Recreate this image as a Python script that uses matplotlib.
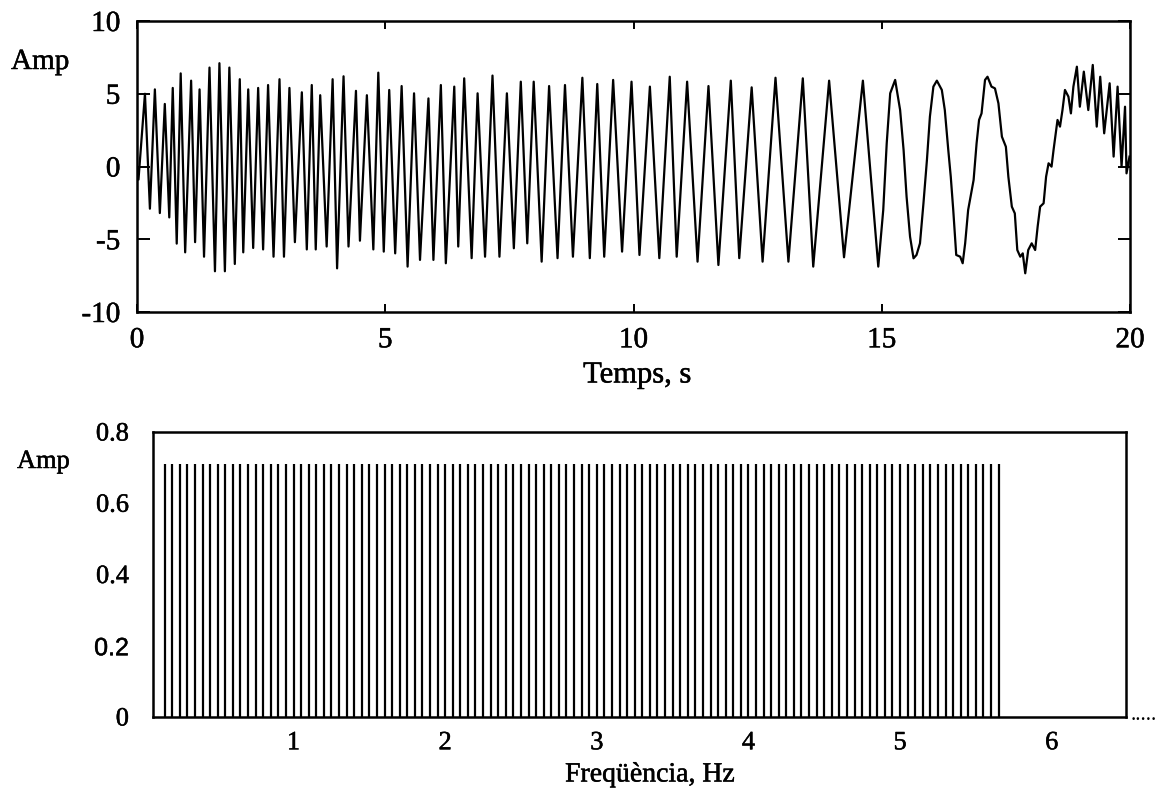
import matplotlib
matplotlib.use("Agg")
import matplotlib.pyplot as plt
import matplotlib.patheffects as pe

# ---------------- data ----------------
# top panel: extrema / shape points of the recorded signal (time in s, amplitude)
time_s = [
    0.00, 0.03, 0.16, 0.26, 0.36, 0.46, 0.56, 0.65, 0.72, 0.80,
    0.88, 0.97, 1.09, 1.17, 1.26, 1.35, 1.46, 1.57, 1.66, 1.77,
    1.86, 1.97, 2.07, 2.14, 2.24, 2.34, 2.44, 2.54, 2.64, 2.75,
    2.87, 2.96, 3.07, 3.18, 3.32, 3.42, 3.52, 3.60, 3.69, 3.82,
    3.94, 4.03, 4.16, 4.26, 4.41, 4.49, 4.63, 4.76, 4.86, 4.97,
    5.08, 5.20, 5.33, 5.45, 5.58, 5.70, 5.87, 5.97, 6.12, 6.22,
    6.39, 6.47, 6.59, 6.74, 6.86, 7.01, 7.16, 7.30, 7.45, 7.59,
    7.73, 7.86, 7.99, 8.15, 8.30, 8.47, 8.62, 8.78, 8.97, 9.12,
    9.27, 9.41, 9.59, 9.77, 9.96, 10.12, 10.33, 10.52, 10.73, 10.87,
    11.08, 11.29, 11.51, 11.71, 11.96, 12.13, 12.38, 12.60, 12.86, 13.12,
    13.41, 13.62, 13.94, 14.24, 14.62, 14.93,
    15.03, 15.10, 15.17, 15.27, 15.37, 15.44, 15.50, 15.57, 15.64, 15.70,
    15.77, 15.84, 15.91, 15.97, 16.04, 16.11, 16.21, 16.27, 16.34, 16.39,
    16.44, 16.50, 16.58, 16.63, 16.68, 16.74, 16.85, 16.91, 16.96, 17.01,
    17.08, 17.13, 17.21, 17.28, 17.35, 17.42, 17.50, 17.55, 17.62, 17.68,
    17.73, 17.79, 17.84, 17.89, 17.95, 18.02, 18.09, 18.14, 18.19, 18.26,
    18.31, 18.36, 18.42, 18.46, 18.54, 18.59, 18.64, 18.69, 18.76, 18.81,
    18.86, 18.93, 18.99, 19.07, 19.16, 19.25, 19.33, 19.40, 19.48, 19.59,
    19.67, 19.75, 19.83, 19.90, 19.93, 19.99,
]
signal_amp = [
    0.0, -0.9, 5.0, -2.9, 5.3, -3.2, 4.3, -3.5, 5.4, -5.3,
    6.4, -5.9, 5.9, -5.2, 5.3, -6.2, 6.8, -7.2, 7.1, -7.2,
    6.8, -6.7, 6.0, -5.9, 5.3, -5.6, 5.4, -5.7, 5.6, -6.2,
    6.0, -6.2, 5.4, -5.2, 5.1, -5.7, 5.6, -5.7, 4.9, -5.5,
    6.0, -7.0, 6.2, -5.5, 5.2, -5.1, 4.9, -5.7, 6.45, -5.85,
    5.26, -5.97, 5.53, -6.88, 5.03, -6.42, 4.68, -6.42, 5.6, -6.65,
    5.49, -5.5, 6.06, -6.3, 5.03, -6.2, 6.25, -6.2, 5.03, -5.62,
    5.83, -5.28, 5.83, -6.54, 5.53, -6.3, 5.6, -6.2, 6.1, -6.3,
    5.67, -6.2, 5.95, -5.85, 5.83, -6.08, 5.49, -6.3, 6.17, -6.2,
    5.83, -6.54, 5.53, -6.77, 5.90, -6.3, 5.44, -6.54, 6.1, -6.54,
    6.06, -6.88, 5.90, -6.24, 5.90, -6.88,
    -2.99, 1.59, 5.03, 5.95, 3.88, 1.13, -2.07, -4.82, -6.31, -6.08,
    -5.28, -2.53, 0.45, 3.43, 5.49, 5.90, 5.26, 3.88, 1.13, -0.70,
    -2.99, -6.08, -6.20, -6.65, -5.28, -2.99, -0.93, 1.59, 3.20, 3.65,
    5.95, 6.17, 5.49, 5.37, 4.34, 2.05, 1.36, -0.70, -2.76, -3.22,
    -5.74, -6.20, -5.97, -7.34, -5.74, -5.28, -5.74, -4.13, -2.76, -2.53,
    -0.70, 0.22, -0.01, 1.13, 3.20, 2.74, 3.88, 5.26, 4.80, 3.65,
    5.49, 6.86, 4.11, 6.52, 3.88, 6.98, 2.74, 6.17, 2.28, 5.72,
    0.68, 5.49, -0.01, 4.11, -0.47, 0.68,
]
time_ticks = [0, 5, 10, 15, 20]
signal_ticks = [-10, -5, 0, 5, 10]

# bottom panel: spectral lines (frequency in Hz, amplitude)
freq_hz = [
    0.15, 0.20, 0.25, 0.30, 0.35, 0.40, 0.45, 0.50, 0.55, 0.60,
    0.65, 0.70, 0.75, 0.80, 0.85, 0.90, 0.95, 1.00, 1.05, 1.10,
    1.15, 1.20, 1.25, 1.30, 1.35, 1.40, 1.45, 1.50, 1.55, 1.60,
    1.65, 1.70, 1.75, 1.80, 1.85, 1.90, 1.95, 2.00, 2.05, 2.10,
    2.15, 2.20, 2.25, 2.30, 2.35, 2.40, 2.45, 2.50, 2.55, 2.60,
    2.65, 2.70, 2.75, 2.80, 2.85, 2.90, 2.95, 3.00, 3.05, 3.10,
    3.15, 3.20, 3.25, 3.30, 3.35, 3.40, 3.45, 3.50, 3.55, 3.60,
    3.65, 3.70, 3.75, 3.80, 3.85, 3.90, 3.95, 4.00, 4.05, 4.10,
    4.15, 4.20, 4.25, 4.30, 4.35, 4.40, 4.45, 4.50, 4.55, 4.60,
    4.65, 4.70, 4.75, 4.80, 4.85, 4.90, 4.95, 5.00, 5.05, 5.10,
    5.15, 5.20, 5.25, 5.30, 5.35, 5.40, 5.45, 5.50, 5.55, 5.60,
    5.65,
]
line_amp = 0.71
spec_amp = [line_amp] * len(freq_hz)
freq_ticks = [1, 2, 3, 4, 5, 6]
spec_ticks = [0, 0.2, 0.4, 0.6, 0.8]
spec_tick_labels = ["0", "0.2", "0.4", "0.6", "0.8"]

# ---------------- figure ----------------
plt.rcParams["font.family"] = ["Liberation Serif", "DejaVu Serif"]
plt.rcParams["axes.unicode_minus"] = False
fig = plt.figure(figsize=(11.69, 7.95), dpi=100)
W, H = 1169.0, 795.0
heavy = [pe.withStroke(linewidth=0.35, foreground="black")]

# top panel
ax1 = fig.add_axes([137 / W, 1 - 312 / H, 993 / W, 291 / H])
ax1.plot(time_s, signal_amp, color="black", lw=1.6)
ax1.set_xlim(0, 20)
ax1.set_ylim(-10, 10)
ax1.set_xticks(time_ticks)
ax1.set_yticks(signal_ticks)
ax1.tick_params(axis="x", direction="in", length=6, width=1.4, top=True,
                labelsize=21, pad=11)
ax1.tick_params(axis="y", direction="in", length=9, width=1.4, right=True,
                labelsize=21, pad=12)
for s in ax1.spines.values():
    s.set_linewidth(1.8)
for t in ax1.get_xticklabels() + ax1.get_yticklabels():
    t.set_path_effects(heavy)
fig.text(11 / W, 1 - 62 / H, "Amp", fontsize=21, ha="left", va="center",
         path_effects=heavy)
fig.text(637 / W, 1 - 375 / H, "Temps, s", fontsize=22, ha="center", va="center",
         path_effects=heavy)

# bottom panel
ax2 = fig.add_axes([152.5 / W, 1 - 717 / H, 973.5 / W, 285 / H])
ax2.vlines(freq_hz, 0, spec_amp, color="black", lw=1.6)
ax2.set_xlim(0.07, 6.49)
ax2.set_ylim(0, 0.8)
ax2.set_xticks(freq_ticks)
ax2.set_yticks(spec_ticks)
ax2.set_yticklabels(spec_tick_labels)
ax2.tick_params(axis="both", length=0, labelsize=19)
ax2.tick_params(axis="x", pad=11)
ax2.tick_params(axis="y", pad=17)
for s in ax2.spines.values():
    s.set_linewidth(1.8)
for t in ax2.get_xticklabels() + ax2.get_yticklabels():
    t.set_path_effects(heavy)
lbl = ax2.get_yticklabels()[1]
lbl.set_family(["Liberation Sans", "DejaVu Sans"])
lbl.set_fontsize(18)
fig.text(17 / W, 1 - 462 / H, "Amp", fontsize=19, ha="left", va="center",
         path_effects=heavy)
fig.text(650 / W, 1 - 775 / H, "Freqüència, Hz", fontsize=20, ha="center",
         va="center", path_effects=heavy)
fig.text(1131 / W, 1 - 720 / H, ".....", fontsize=15, ha="left", va="baseline")

fig.savefig("out.png", dpi=100)
